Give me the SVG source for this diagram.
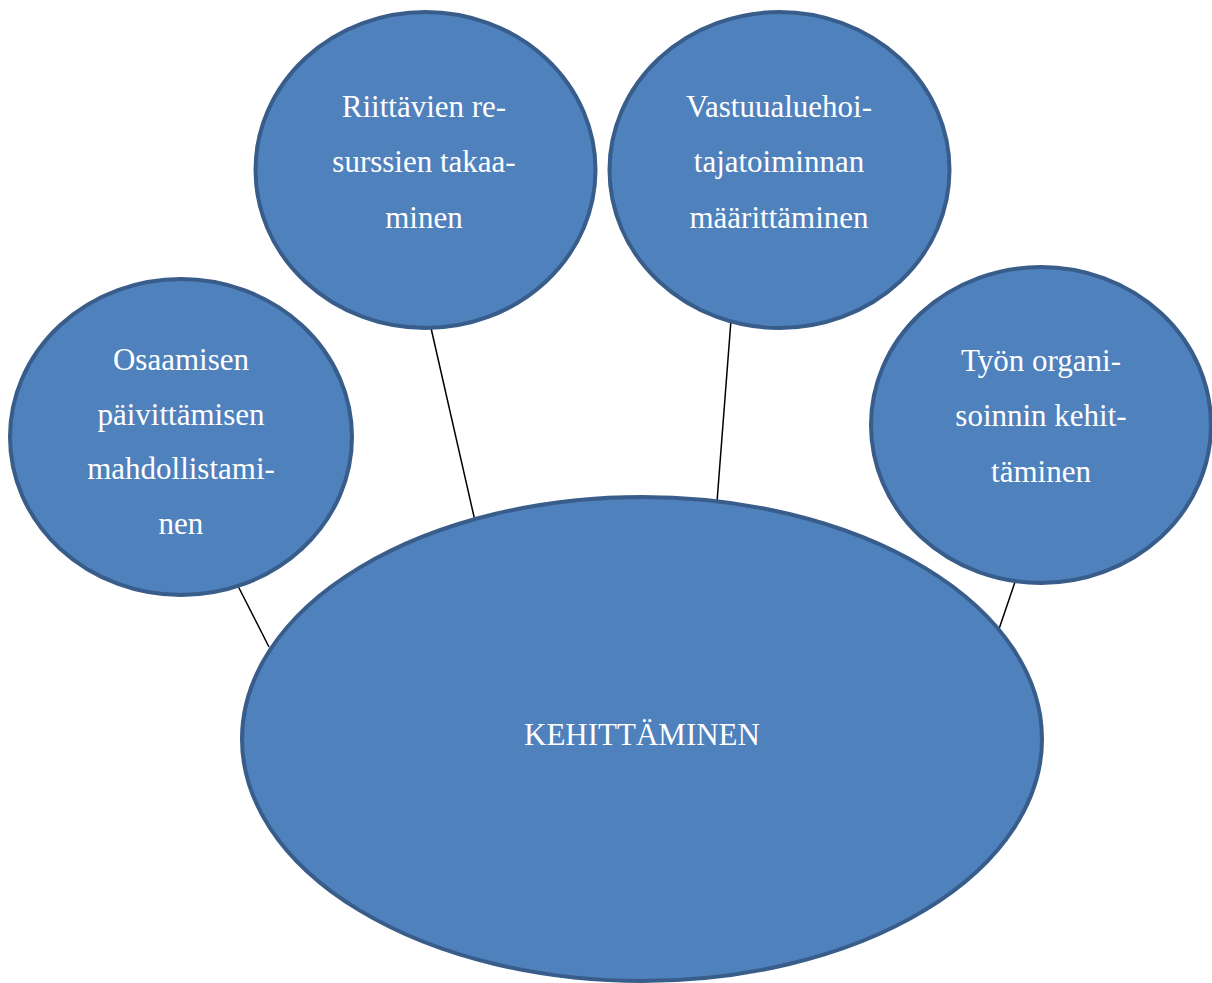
<svg xmlns="http://www.w3.org/2000/svg" width="1212" height="983" viewBox="0 0 1212 983">
<style>
.n{fill:#4F81BD;stroke:#385D8A;stroke-width:4}
.t{font-family:"Liberation Serif","Times New Roman",serif;font-size:31px;fill:#FFFFFF;text-anchor:middle}
.c{stroke:#000;stroke-width:1.5;fill:none}
</style>
<rect width="1212" height="983" fill="#fff"/>
<g id="connectors">
<line class="c" x1="237" y1="584" x2="269" y2="647"/>
<line class="c" x1="431" y1="328" x2="475" y2="521"/>
<line class="c" x1="731" y1="320" x2="717" y2="502"/>
<line class="c" x1="1015" y1="582" x2="999" y2="629"/>
</g>
<g id="node-riittavien">
<ellipse class="n" cx="425.5" cy="170" rx="170" ry="158"/>
<text class="t" x="424" y="117">Riittävien re-</text>
<text class="t" x="424" y="172">surssien takaa-</text>
<text class="t" x="424" y="228">minen</text>
</g>
<g id="node-vastuu">
<ellipse class="n" cx="779.5" cy="170" rx="170" ry="158"/>
<text class="t" x="779" y="117">Vastuualuehoi-</text>
<text class="t" x="779" y="172">tajatoiminnan</text>
<text class="t" x="779" y="228">määrittäminen</text>
</g>
<g id="node-osaamisen">
<ellipse class="n" cx="181" cy="437" rx="171" ry="158"/>
<text class="t" x="181" y="370">Osaamisen</text>
<text class="t" x="181" y="425">päivittämisen</text>
<text class="t" x="181" y="479">mahdollistami-</text>
<text class="t" x="181" y="534">nen</text>
</g>
<g id="node-tyon">
<ellipse class="n" cx="1041" cy="425" rx="170" ry="158"/>
<text class="t" x="1041" y="371">Työn organi-</text>
<text class="t" x="1041" y="426">soinnin kehit-</text>
<text class="t" x="1041" y="482">täminen</text>
</g>
<g id="node-kehittaminen">
<ellipse class="n" cx="642" cy="739" rx="400" ry="242"/>
<text class="t" x="642" y="745">KEHITTÄMINEN</text>
</g>
</svg>
